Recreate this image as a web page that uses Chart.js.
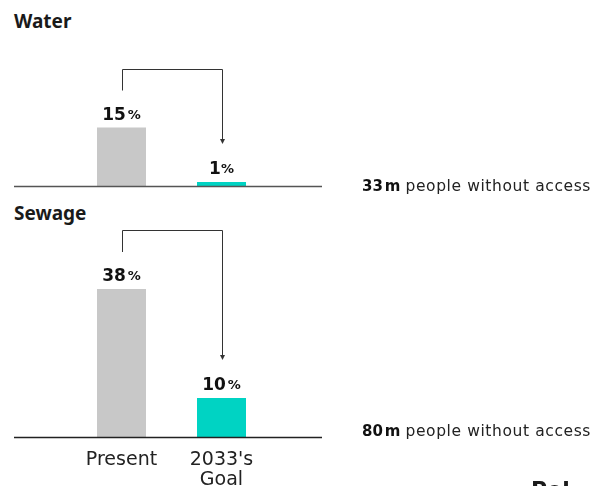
<!DOCTYPE html>
<html>
<head>
<meta charset="utf-8">
<script src="https://cdn.jsdelivr.net/npm/chart.js@4.4.1/dist/chart.umd.min.js"></script>
<style>
  html, body { margin: 0; padding: 0; background: #fff; width: 613px; height: 486px; overflow: hidden; }
  body { position: relative; font-family: "Noto Sans", sans-serif; color: #1a1a1a; }
  .title { position: absolute; left: 14px; font-weight: 700; font-size: 19px; line-height: 1; }
  .wrap { position: absolute; left: 0; width: 613px; }
  .cut { position: absolute; left: 531px; top: 479px; font-family: "DejaVu Sans", sans-serif; font-size: 22px; font-weight: 600; line-height: 1; }
</style>
</head>
<body>
<div class="title" style="top:12px">Water</div>
<div class="title" style="top:204px">Sewage</div>
<div class="wrap" style="top:0;height:200px"><canvas id="water"></canvas></div>
<div class="wrap" style="top:195px;height:291px"><canvas id="sewage"></canvas></div>
<div class="cut">Pol</div>
<script>
const categories = ["Present", ["2033's", "Goal"]];
const waterValues = [15, 1];
const sewageValues = [38, 10];
const withoutAccessMillions = [33, 80];
const barColors = ["#c8c8c8", "#00d3c3"];

const FONT = '"DejaVu Sans", sans-serif';

const annotatePlugin = {
  id: 'annotate',
  afterDatasetsDraw(chart, args, opts) {
    const ctx = chart.ctx;
    const area = chart.chartArea;
    const bars = chart.getDatasetMeta(0).data;
    const values = chart.data.datasets[0].data;
    ctx.save();
    // baseline
    ctx.strokeStyle = opts.lineColor;
    ctx.lineWidth = 1.5;
    ctx.beginPath();
    ctx.moveTo(14, area.bottom + 0.5);
    ctx.lineTo(322, area.bottom + 0.5);
    ctx.stroke();
    // value labels
    ctx.fillStyle = '#111';
    bars.forEach((b, i) => {
      const num = String(values[i]);
      ctx.font = '700 17px ' + FONT;
      const nw = ctx.measureText(num).width;
      ctx.font = '700 13px ' + FONT;
      const pw = ctx.measureText('%').width;
      const gap = num === '1' ? 0 : 2;
      const total = nw + gap + pw;
      const x0 = b.x - total / 2;
      const y = b.y - 8;
      ctx.textBaseline = 'alphabetic';
      ctx.textAlign = 'left';
      ctx.font = '700 17px ' + FONT;
      ctx.fillText(num, x0, y);
      ctx.font = '700 13px ' + FONT;
      ctx.fillText('%', x0 + nw + gap, y - 1);
    });
    // bracket arrow
    const b0 = bars[0], b1 = bars[1];
    const topY = Math.round(b0.y - 59) + 0.5;
    const lx = Math.round(b0.x) + 0.5, rx = Math.round(b1.x) + 0.5;
    const tipY = b1.y - 38;
    ctx.strokeStyle = '#333';
    ctx.lineWidth = 1;
    ctx.beginPath();
    ctx.moveTo(lx, b0.y - 37);
    ctx.lineTo(lx, topY);
    ctx.lineTo(rx, topY);
    ctx.lineTo(rx, tipY - 4);
    ctx.stroke();
    ctx.fillStyle = '#333';
    ctx.beginPath();
    ctx.moveTo(rx - 2.5, tipY - 5);
    ctx.lineTo(rx + 2.5, tipY - 5);
    ctx.lineTo(rx, tipY);
    ctx.closePath();
    ctx.fill();
    // people without access
    const m = String(opts.millions);
    const ty = area.bottom + opts.textDy;
    ctx.textBaseline = 'middle';
    ctx.textAlign = 'left';
    ctx.fillStyle = '#111';
    ctx.font = '700 15px ' + FONT;
    ctx.fillText(m, 362, ty);
    let x = 362 + ctx.measureText(m).width + 2;
    ctx.fillText('m', x, ty);
    x += ctx.measureText('m').width + 5;
    ctx.font = '400 15.5px ' + FONT;
    ctx.fillStyle = '#222';
    ctx.letterSpacing = '0.6px';
    ctx.fillText('people without access', x, ty);
    ctx.letterSpacing = '0px';
    ctx.restore();
  }
};

function makePanel(id, values, yMax, topPad, bottomPad, showTicks, millions, textDy, lineColor) {
  return new Chart(document.getElementById(id), {
    type: 'bar',
    data: {
      labels: categories,
      datasets: [{
        data: values,
        backgroundColor: barColors,
        borderWidth: 0,
        categoryPercentage: 1,
        barPercentage: 0.49
      }]
    },
    options: {
      responsive: true,
      maintainAspectRatio: false,
      animation: false,
      events: [],
      layout: { padding: { left: 71.5, right: 341.5, top: topPad, bottom: bottomPad } },
      plugins: {
        legend: { display: false },
        tooltip: { enabled: false },
        annotate: { millions: millions, textDy: textDy, lineColor: lineColor }
      },
      scales: {
        x: {
          display: showTicks,
          grid: { display: false, drawTicks: false },
          border: { display: false },
          ticks: { color: '#222', padding: 13, font: { family: FONT, size: 19, lineHeight: 1.05 }, maxRotation: 0 },
          afterFit(scale) { if (showTicks) scale.height = 49; }
        },
        y: { display: false, min: 0, max: yMax }
      }
    },
    plugins: [annotatePlugin]
  });
}

makePanel('water', waterValues, 40, 30, 14, false, withoutAccessMillions[0], 1, '#555');
makePanel('sewage', sewageValues, 57, 20, 0, true, withoutAccessMillions[1], -5, '#222');
</script>
</body>
</html>
